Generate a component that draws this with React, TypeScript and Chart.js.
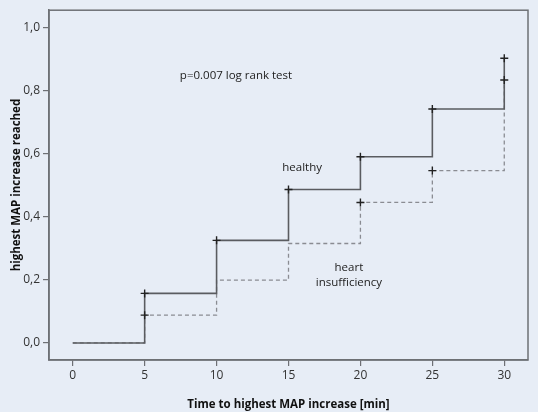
import React, { useEffect, useRef } from "react";
import { Chart, registerables } from "chart.js";

Chart.register(...registerables);

const healthyTimes = [0, 5, 10, 15, 20, 25, 30];
const healthyValues = [0, 0.157, 0.325, 0.486, 0.59, 0.741, 0.902];
const heartTimes = [0, 5, 10, 15, 20, 25, 30];
const heartValues = [0, 0.088, 0.199, 0.315, 0.445, 0.546, 0.833];
const healthyCensorTimes = [5, 10, 15, 20, 25, 30];
const healthyCensorValues = [0.157, 0.325, 0.486, 0.59, 0.741, 0.902];
const heartCensorTimes = [5, 20, 25, 30];
const heartCensorValues = [0.088, 0.445, 0.546, 0.833];
const xTicks = [0, 5, 10, 15, 20, 25, 30];
const yTicks = [0, 0.2, 0.4, 0.6, 0.8, 1.0];
const notes = [
  { text: "p=0.007 log rank test", x: 11.35, y: 0.848 },
  { text: "healthy", x: 15.95, y: 0.555 },
  { text: "heart", x: 19.2, y: 0.237 },
  { text: "insufficiency", x: 19.2, y: 0.19 },
];

const BG = "#e7edf6";
const FONT = "'Open Sans', 'Noto Sans', sans-serif";

export default function App() {
  const ref = useRef<HTMLCanvasElement | null>(null);
  useEffect(() => {
    document.body.style.margin = "0";
    const boxPlugin = {
      id: "box",
      afterDraw(chart: any) {
        const { ctx, chartArea, scales } = chart;
        ctx.save();
        ctx.strokeStyle = "#6e7075";
        ctx.lineWidth = 1.5;
        ctx.strokeRect(chartArea.left, chartArea.top, chartArea.right - chartArea.left, chartArea.bottom - chartArea.top);
        ctx.fillStyle = "#222";
        ctx.font = `11.5px ${FONT}`;
        ctx.textAlign = "center";
        ctx.textBaseline = "middle";
        for (const n of notes) {
          ctx.fillText(n.text, scales.x.getPixelForValue(n.x), scales.y.getPixelForValue(n.y));
        }
        ctx.restore();
      },
    };
    const chart = new Chart(ref.current as HTMLCanvasElement, {
      type: "line",
      data: {
        datasets: [
          {
            label: "healthy",
            data: healthyTimes.map((t, i) => ({ x: t, y: healthyValues[i] })),
            stepped: "before",
            borderColor: "#5a5c60",
            borderWidth: 1.6,
            pointRadius: 0,
            fill: false,
            order: 1,
          },
          {
            label: "heart insufficiency",
            data: heartTimes.map((t, i) => ({ x: t, y: heartValues[i] })),
            stepped: "before",
            borderColor: "#8a8c92",
            borderWidth: 1.3,
            borderDash: [4, 3],
            pointRadius: 0,
            fill: false,
            order: 2,
          },
          {
            label: "healthy censored",
            data: healthyCensorTimes.map((t, i) => ({ x: t, y: healthyCensorValues[i] })),
            showLine: false,
            pointStyle: "cross",
            pointRadius: 4,
            borderColor: "#222",
            borderWidth: 1.4,
            order: 0,
          },
          {
            label: "heart censored",
            data: heartCensorTimes.map((t, i) => ({ x: t, y: heartCensorValues[i] })),
            showLine: false,
            pointStyle: "cross",
            pointRadius: 4,
            borderColor: "#222",
            borderWidth: 1.4,
            order: 0,
          },
        ] as any,
      },
      options: {
        animation: false,
        responsive: false,
        maintainAspectRatio: false,
        layout: { padding: { top: 9, right: 10, left: 0, bottom: 0 } },
        plugins: { legend: { display: false }, tooltip: { enabled: false } },
        scales: {
          x: {
            type: "linear",
            min: -1.65,
            max: 31.65,
            afterBuildTicks: (s: any) => {
              s.ticks = xTicks.map((v) => ({ value: v }));
            },
            afterFit: (s: any) => {
              s.height = 52;
            },
            grid: { drawOnChartArea: false, drawTicks: true, tickLength: 6, color: "#6e7075", lineWidth: 1.2 },
            border: { display: true, color: "#6e7075", width: 1.5 },
            ticks: { color: "#333", font: { family: FONT, size: 12 }, padding: 2, maxRotation: 0, autoSkip: false },
            title: {
              display: true,
              text: "Time to highest MAP increase [min]",
              color: "#111",
              font: { family: FONT, size: 11.5, weight: "bold" },
              padding: { top: 4, bottom: 0 },
            },
          },
          y: {
            type: "linear",
            min: -0.054,
            max: 1.054,
            afterBuildTicks: (s: any) => {
              s.ticks = yTicks.map((v) => ({ value: v }));
            },
            afterFit: (s: any) => {
              s.width = 49;
            },
            grid: { drawOnChartArea: false, drawTicks: true, tickLength: 6, color: "#6e7075", lineWidth: 1.2 },
            border: { display: true, color: "#6e7075", width: 1.5 },
            ticks: {
              color: "#333",
              font: { family: FONT, size: 12 },
              padding: 3,
              autoSkip: false,
              callback: (v: any) => Number(v).toFixed(1).replace(".", ","),
            },
            title: {
              display: true,
              text: "highest MAP increase reached",
              color: "#111",
              font: { family: FONT, size: 11.5, weight: "bold" },
              padding: { top: 10, bottom: 0 },
            },
          },
        },
      } as any,
      plugins: [boxPlugin],
    });
    return () => chart.destroy();
  }, []);
  return (
    <div style={{ position: "absolute", left: 0, top: 0, width: 538, height: 412, background: BG }}>
      <canvas ref={ref} width={538} height={412} style={{ width: 538, height: 412, display: "block" }} />
    </div>
  );
}
